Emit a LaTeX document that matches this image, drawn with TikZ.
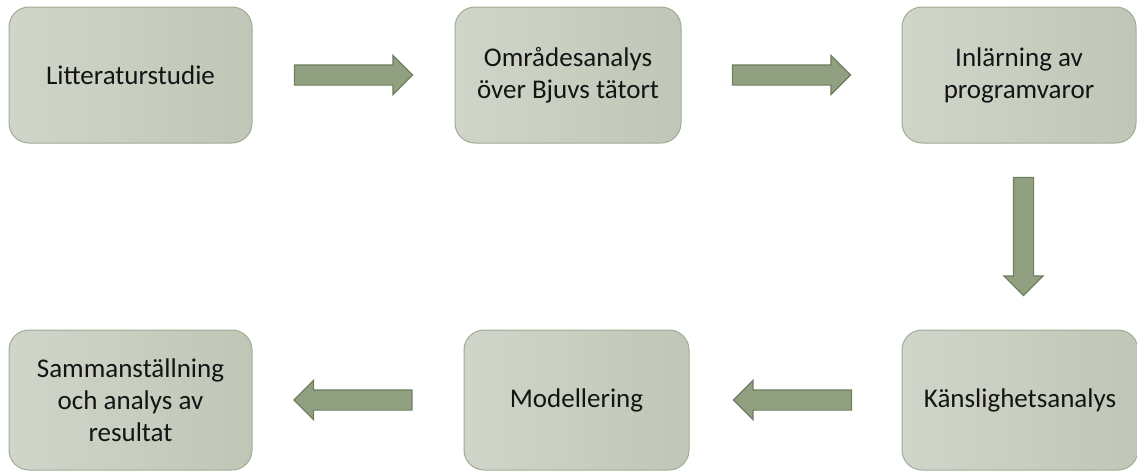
\documentclass[tikz,border=0pt]{standalone}
\usepackage{fontspec}
\setmainfont{Carlito}
\usetikzlibrary{shapes.arrows,calc}
\definecolor{boxlight}{RGB}{208,213,201}
\definecolor{boxdark}{RGB}{192,199,183}
\definecolor{boxline}{RGB}{160,172,148}
\definecolor{arrowfill}{RGB}{145,160,128}
\definecolor{arrowline}{RGB}{110,126,96}
\tikzset{
  stage/.style={rectangle, rounded corners=20pt, draw=boxline, line width=1pt,
    left color=boxlight, right color=boxdark, align=center, text=black!92,
    font=\fontsize{27}{32}\selectfont, inner sep=0pt},
  flow/.style={single arrow, draw=arrowline, fill=arrowfill, line width=1.2pt,
    minimum height=118pt, inner xsep=0pt, inner ysep=9.5pt,
    single arrow head extend=9.5pt, single arrow tip angle=90}
}
\begin{document}
\begin{tikzpicture}[x=1pt,y=-1pt]
\useasboundingbox (0,0) rectangle (1137,472);

% top row
\node [stage, minimum width=243pt, minimum height=136pt] (lit) at (130.5,75) {Litteraturstudie};
\node [stage, minimum width=226pt, minimum height=136pt] (omr) at (568,75) {Områdesanalys\\över Bjuvs tätort};
\node [stage, minimum width=234pt, minimum height=136pt] (inl) at (1019,75) {Inlärning av\\programvaror};

% bottom row
\node [stage, minimum width=236pt, minimum height=140pt] (kans) at (1020,400) {Känslighetsanalys};
\node [stage, minimum width=225pt, minimum height=140pt] (mod) at (576.5,400) {Modellering};
\node [stage, minimum width=243pt, minimum height=140pt] (samm) at (130.5,400) {Sammanställning\\och analys av\\resultat};

% arrows
\node [flow] (a1) at ($(lit.east)!0.5!(omr.west)+(-5,0)$) {};
\node [flow] (a2) at ($(omr.east)!0.5!(inl.west)+(-5,0)$) {};
\node [flow, rotate=-90] (a3) at ($(inl.south)!0.5!(kans.north)+(4,-5)$) {};
\node [flow, rotate=180] (a4) at ($(kans.west)!0.5!(mod.east)+(2,0)$) {};
\node [flow, rotate=180] (a5) at ($(mod.west)!0.5!(samm.east)$) {};
\end{tikzpicture}
\end{document}
